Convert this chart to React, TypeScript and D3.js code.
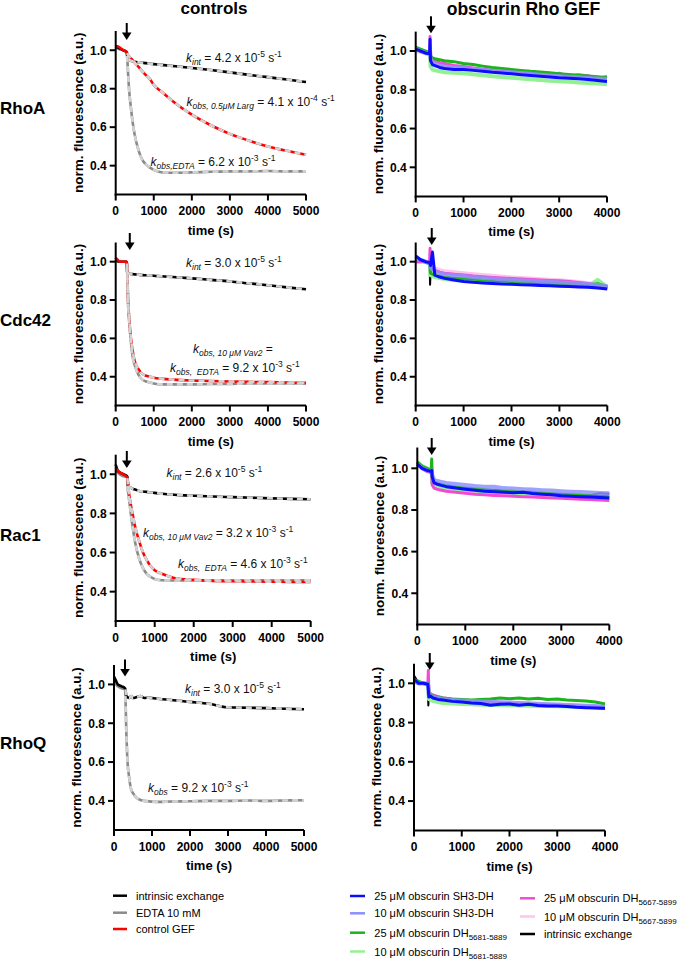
import React from "react";
import * as d3 from "d3";

const FONT = "'Liberation Sans', Arial, Helvetica, sans-serif";

// ---------- time axes ----------
const CONTROL_TIMES = [0, 50, 100, 200, 290, 300, 325, 350, 400, 450, 500, 600, 700, 800, 900, 1000, 1200, 1500, 2000, 2500, 3000, 3500, 4000, 4500, 5000];
const GEF_TIMES = [0, 100, 200, 290, 300, 310, 350, 400, 500, 600, 800, 1000, 1200, 1400, 1600, 1800, 2000, 2200, 2400, 2600, 2800, 3000, 3200, 3400, 3600, 3800, 4000];

const X_TICKS_CONTROL = [0, 1000, 2000, 3000, 4000, 5000];
const X_TICKS_GEF = [0, 1000, 2000, 3000, 4000];
const Y_TICKS = [0.4, 0.6, 0.8, 1.0];
const Y_DOMAIN = [0.25, 1.1];

const ROW_NAMES = ["RhoA", "Cdc42", "Rac1", "RhoQ"];

// ---------- controls data ----------
const rhoA_int = [1.02, 1.015, 1.01, 1.0, 0.99, 0.975, 0.955, 0.95, 0.945, 0.943, 0.94, 0.937, 0.935, 0.933, 0.93, 0.928, 0.924, 0.918, 0.908, 0.897, 0.885, 0.872, 0.86, 0.848, 0.835];
const rhoA_edta = [1.01, 1.01, 1.005, 1.0, 0.99, 0.97, 0.88, 0.8, 0.7, 0.62, 0.56, 0.48, 0.43, 0.405, 0.39, 0.378, 0.366, 0.363, 0.365, 0.368, 0.37, 0.37, 0.372, 0.37, 0.37];
const rhoA_gef = [1.02, 1.02, 1.015, 1.0, 0.99, 0.985, 0.975, 0.968, 0.958, 0.947, 0.936, 0.913, 0.89, 0.869, 0.85, 0.82, 0.785, 0.735, 0.665, 0.61, 0.565, 0.53, 0.5, 0.477, 0.457];

const cdc42_int = [1.02, 1.005, 1.0, 1.0, 1.0, 0.945, 0.94, 0.938, 0.936, 0.935, 0.934, 0.932, 0.93, 0.929, 0.928, 0.927, 0.924, 0.92, 0.913, 0.905, 0.897, 0.887, 0.877, 0.866, 0.856];
const cdc42_edta = [1.01, 1.0, 1.0, 1.0, 1.0, 0.97, 0.78, 0.7, 0.58, 0.5, 0.46, 0.41, 0.385, 0.375, 0.37, 0.365, 0.36, 0.36, 0.36, 0.362, 0.363, 0.365, 0.365, 0.365, 0.365];
const cdc42_gef = [1.02, 1.01, 1.0, 1.0, 1.0, 0.99, 0.8, 0.72, 0.6, 0.53, 0.48, 0.44, 0.415, 0.405, 0.4, 0.395, 0.39, 0.385, 0.38, 0.378, 0.375, 0.373, 0.372, 0.37, 0.368];

const rac1_int = [1.05, 1.02, 1.01, 1.0, 0.99, 0.985, 0.94, 0.935, 0.93, 0.925, 0.922, 0.915, 0.912, 0.91, 0.907, 0.905, 0.9, 0.895, 0.89, 0.886, 0.883, 0.88, 0.877, 0.874, 0.872];
const rac1_edta = [1.02, 1.01, 1.0, 0.99, 0.985, 0.94, 0.9, 0.86, 0.78, 0.71, 0.65, 0.57, 0.52, 0.49, 0.475, 0.465, 0.458, 0.457, 0.458, 0.458, 0.458, 0.458, 0.458, 0.458, 0.458];
const rac1_gef = [1.03, 1.02, 1.01, 1.0, 0.985, 0.98, 0.93, 0.89, 0.83, 0.78, 0.73, 0.66, 0.6, 0.56, 0.53, 0.51, 0.49, 0.47, 0.46, 0.455, 0.453, 0.452, 0.451, 0.45, 0.45];

const rhoQ_int = [1.04, 1.02, 1.0, 0.99, 0.98, 0.975, 0.94, 0.935, 0.93, 0.94, 0.93, 0.935, 0.94, 0.93, 0.932, 0.93, 0.925, 0.92, 0.91, 0.9, 0.882, 0.88, 0.878, 0.875, 0.872];
const rhoQ_edta = [1.02, 1.0, 0.99, 0.98, 0.975, 0.94, 0.75, 0.62, 0.52, 0.46, 0.44, 0.415, 0.405, 0.4, 0.398, 0.396, 0.395, 0.397, 0.398, 0.4, 0.4, 0.402, 0.4, 0.402, 0.403];

// ---------- obscurin GEF data ----------
const gA_blue = [1.01, 1.0, 0.99, 0.985, 1.06, 0.95, 0.93, 0.925, 0.915, 0.91, 0.905, 0.905, 0.9, 0.895, 0.89, 0.887, 0.882, 0.878, 0.874, 0.87, 0.866, 0.862, 0.86, 0.857, 0.853, 0.848, 0.843];
const gA_lblue = [1.01, 1.0, 0.99, 0.985, 1.0, 0.96, 0.94, 0.935, 0.925, 0.92, 0.915, 0.912, 0.907, 0.902, 0.898, 0.894, 0.89, 0.886, 0.882, 0.878, 0.874, 0.87, 0.867, 0.864, 0.861, 0.858, 0.855];
const gA_green = [1.02, 1.01, 1.0, 0.99, 1.0, 0.975, 0.965, 0.96, 0.955, 0.95, 0.945, 0.935, 0.93, 0.922, 0.915, 0.91, 0.905, 0.9, 0.895, 0.892, 0.888, 0.883, 0.879, 0.875, 0.871, 0.867, 0.862];
const gA_lgreen = [1.01, 1.0, 0.99, 0.985, 0.98, 0.92, 0.905, 0.9, 0.895, 0.89, 0.888, 0.885, 0.88, 0.875, 0.87, 0.866, 0.862, 0.858, 0.854, 0.85, 0.847, 0.844, 0.841, 0.838, 0.835, 0.832, 0.828];
const gA_pink = [1.01, 1.0, 0.99, 0.985, 1.075, 0.97, 0.955, 0.95, 0.94, 0.935, 0.925, 0.92, 0.912, 0.906, 0.9, 0.896, 0.892, 0.895, 0.884, 0.88, 0.876, 0.885, 0.868, 0.878, 0.872, 0.86, 0.868];
const gA_lpink = [1.0, 0.995, 0.99, 0.985, 1.0, 0.96, 0.945, 0.94, 0.932, 0.926, 0.92, 0.915, 0.908, 0.902, 0.897, 0.893, 0.889, 0.885, 0.881, 0.878, 0.875, 0.872, 0.869, 0.867, 0.865, 0.863, 0.86];
const gA_black = [1.01, 1.0, 0.99, 0.985, 0.97, 0.95, 0.94, 0.935, 0.93, 0.925, 0.918, 0.912, 0.906, 0.9, 0.895, 0.89, 0.886, 0.882, 0.878, 0.875, 0.872, 0.869, 0.866, 0.863, 0.86, 0.864, 0.862];

const gC_blue = [1.03, 1.01, 1.0, 0.995, 0.99, 0.98, 1.05, 0.93, 0.92, 0.913, 0.905, 0.897, 0.893, 0.889, 0.886, 0.884, 0.882, 0.88, 0.878, 0.876, 0.874, 0.872, 0.87, 0.868, 0.866, 0.863, 0.858];
const gC_lblue = [1.02, 1.01, 1.0, 0.99, 0.99, 0.97, 0.96, 0.95, 0.94, 0.935, 0.93, 0.925, 0.92, 0.915, 0.912, 0.908, 0.905, 0.902, 0.9, 0.898, 0.895, 0.892, 0.89, 0.886, 0.882, 0.878, 0.872];
const gC_green = [1.02, 1.01, 1.0, 0.99, 0.99, 0.94, 0.935, 0.93, 0.925, 0.92, 0.915, 0.912, 0.91, 0.905, 0.902, 0.9, 0.897, 0.895, 0.893, 0.89, 0.888, 0.886, 0.883, 0.88, 0.877, 0.885, 0.87];
const gC_lgreen = [1.02, 1.01, 1.0, 0.99, 0.99, 0.93, 0.925, 0.92, 0.915, 0.91, 0.905, 0.9, 0.897, 0.894, 0.892, 0.89, 0.888, 0.886, 0.884, 0.882, 0.88, 0.878, 0.876, 0.874, 0.872, 0.905, 0.868];
const gC_pink = [1.0, 1.0, 1.0, 0.995, 1.07, 0.97, 0.96, 0.955, 0.945, 0.94, 0.935, 0.93, 0.925, 0.922, 0.918, 0.915, 0.912, 0.91, 0.907, 0.905, 0.902, 0.9, 0.896, 0.892, 0.886, 0.878, 0.865];
const gC_lpink = [1.0, 1.0, 1.0, 0.995, 1.0, 0.975, 0.97, 0.965, 0.955, 0.95, 0.945, 0.94, 0.935, 0.93, 0.926, 0.922, 0.918, 0.915, 0.912, 0.909, 0.906, 0.903, 0.899, 0.894, 0.888, 0.88, 0.87];
const gC_black = [1.0, 1.0, 1.0, 0.995, 0.88, 0.935, 0.93, 0.925, 0.92, 0.915, 0.91, 0.905, 0.9, 0.897, 0.894, 0.891, 0.889, 0.887, 0.885, 0.883, 0.88, 0.878, 0.876, 0.874, 0.871, 0.868, 0.865];

const gR_blue = [1.02, 1.0, 0.99, 0.985, 0.99, 0.96, 0.93, 0.925, 0.918, 0.912, 0.905, 0.9, 0.895, 0.89, 0.887, 0.885, 0.883, 0.885, 0.879, 0.876, 0.873, 0.868, 0.866, 0.864, 0.862, 0.86, 0.857];
const gR_lblue = [1.02, 1.0, 0.99, 0.985, 0.99, 0.97, 0.945, 0.94, 0.935, 0.93, 0.925, 0.92, 0.915, 0.912, 0.912, 0.905, 0.903, 0.9, 0.898, 0.895, 0.893, 0.89, 0.888, 0.886, 0.884, 0.882, 0.88];
const gR_green = [1.03, 1.01, 1.0, 0.99, 1.045, 0.96, 0.935, 0.93, 0.922, 0.917, 0.91, 0.905, 0.902, 0.898, 0.895, 0.892, 0.89, 0.888, 0.885, 0.882, 0.878, 0.875, 0.872, 0.87, 0.868, 0.866, 0.863];
const gR_lgreen = [1.03, 1.01, 1.0, 0.99, 1.0, 0.93, 0.92, 0.915, 0.91, 0.905, 0.9, 0.897, 0.894, 0.89, 0.888, 0.885, 0.883, 0.88, 0.878, 0.876, 0.874, 0.871, 0.869, 0.867, 0.865, 0.863, 0.86];
const gR_pink = [1.03, 1.0, 0.985, 0.98, 0.98, 0.92, 0.905, 0.9, 0.895, 0.89, 0.885, 0.88, 0.876, 0.873, 0.87, 0.868, 0.866, 0.864, 0.862, 0.86, 0.858, 0.856, 0.854, 0.852, 0.85, 0.848, 0.846];
const gR_lpink = [1.02, 1.0, 0.99, 0.985, 0.985, 0.94, 0.925, 0.92, 0.913, 0.908, 0.9, 0.895, 0.891, 0.888, 0.885, 0.882, 0.88, 0.877, 0.875, 0.872, 0.87, 0.867, 0.865, 0.863, 0.861, 0.858, 0.855];
const gR_black = [1.02, 1.0, 0.99, 0.985, 0.93, 0.93, 0.925, 0.92, 0.915, 0.91, 0.905, 0.9, 0.897, 0.894, 0.891, 0.889, 0.887, 0.885, 0.883, 0.881, 0.879, 0.877, 0.875, 0.873, 0.871, 0.88, 0.878];

const gQ_blue = [1.02, 1.0, 1.0, 0.995, 0.97, 0.93, 0.935, 0.925, 0.918, 0.915, 0.908, 0.905, 0.9, 0.897, 0.888, 0.893, 0.895, 0.888, 0.893, 0.887, 0.885, 0.884, 0.882, 0.878, 0.876, 0.874, 0.873];
const gQ_lblue = [1.01, 1.0, 1.0, 0.995, 0.98, 0.94, 0.935, 0.93, 0.925, 0.92, 0.915, 0.912, 0.91, 0.908, 0.906, 0.904, 0.902, 0.9, 0.898, 0.896, 0.894, 0.892, 0.89, 0.888, 0.886, 0.884, 0.88];
const gQ_green = [1.02, 1.01, 1.0, 0.995, 1.0, 0.95, 0.94, 0.935, 0.93, 0.925, 0.92, 0.918, 0.915, 0.918, 0.92, 0.925, 0.922, 0.925, 0.92, 0.924, 0.918, 0.92, 0.915, 0.912, 0.91, 0.905, 0.895];
const gQ_lgreen = [1.01, 1.0, 1.0, 0.995, 0.98, 0.92, 0.915, 0.91, 0.905, 0.9, 0.897, 0.895, 0.893, 0.891, 0.89, 0.889, 0.888, 0.887, 0.886, 0.885, 0.884, 0.883, 0.882, 0.881, 0.88, 0.879, 0.878];
const gQ_pink = [1.01, 1.0, 1.0, 0.995, 1.065, 0.96, 0.945, 0.94, 0.932, 0.925, 0.918, 0.912, 0.908, 0.905, 0.902, 0.9, 0.898, 0.896, 0.894, 0.892, 0.89, 0.888, 0.886, 0.884, 0.88, 0.876, 0.872];
const gQ_lpink = [1.01, 1.0, 1.0, 0.995, 0.99, 0.955, 0.945, 0.94, 0.93, 0.925, 0.918, 0.913, 0.91, 0.907, 0.904, 0.902, 0.9, 0.898, 0.896, 0.894, 0.892, 0.89, 0.888, 0.886, 0.883, 0.88, 0.876];
const gQ_black = [1.04, 1.0, 1.0, 0.995, 0.887, 0.925, 0.925, 0.922, 0.918, 0.915, 0.912, 0.908, 0.905, 0.903, 0.9, 0.898, 0.897, 0.895, 0.894, 0.892, 0.89, 0.888, 0.886, 0.884, 0.882, 0.88, 0.878];

// ---------- styling ----------
const BLACK = "#000000";
const GRAY = "#8a8a8a";
const RED = "#ff0000";
const FIT = "#d2d2d2";
const C_BLUE = "#0c0cff";
const C_LBLUE = "#8f8fff";
const C_GREEN = "#1cb41c";
const C_LGREEN = "#94f094";
const C_PINK = "#f04cd2";
const C_LPINK = "#ffc4ec";

type Layout = { x0: number; x1: number; yT: number; yB: number; arrowT: number; tip: number };

const CONTROL_LAYOUT: Layout[] = [
  { x0: 115.7, x1: 306, yT: 31, yB: 194.5, arrowT: 290, tip: 40 },
  { x0: 115.7, x1: 306, yT: 242.5, yB: 405.5, arrowT: 370, tip: 250 },
  { x0: 115.7, x1: 310.7, yT: 454.7, yB: 621, arrowT: 285, tip: 468 },
  { x0: 114, x1: 304, yT: 665, yB: 830, arrowT: 290, tip: 676.5 },
];
const GEF_LAYOUT: Layout[] = [
  { x0: 415.7, x1: 607, yT: 31.6, yB: 196.4, arrowT: 320, tip: 33.3 },
  { x0: 415.7, x1: 607.3, yT: 242.5, yB: 405.5, arrowT: 335, tip: 245 },
  { x0: 417.3, x1: 609.3, yT: 447.5, yB: 624.5, arrowT: 300, tip: 455 },
  { x0: 414, x1: 605, yT: 663.7, yB: 830.5, arrowT: 330, tip: 670 },
];
const ROW_LABEL_Y = [114, 326, 541, 749];

type CSeries = { v: number[]; c: string; fitFrom: number };
const CONTROL_SERIES: CSeries[][] = [
  [{ v: rhoA_edta, c: GRAY, fitFrom: 300 }, { v: rhoA_int, c: BLACK, fitFrom: 325 }, { v: rhoA_gef, c: RED, fitFrom: 300 }],
  [{ v: cdc42_edta, c: GRAY, fitFrom: 300 }, { v: cdc42_int, c: BLACK, fitFrom: 300 }, { v: cdc42_gef, c: RED, fitFrom: 300 }],
  [{ v: rac1_edta, c: GRAY, fitFrom: 300 }, { v: rac1_int, c: BLACK, fitFrom: 325 }, { v: rac1_gef, c: RED, fitFrom: 300 }],
  [{ v: rhoQ_edta, c: GRAY, fitFrom: 300 }, { v: rhoQ_int, c: BLACK, fitFrom: 300 }],
];

const GEF_SERIES: { v: number[]; c: string; w: number }[][] = [
  [gA_black, gA_lpink, gA_lgreen, gA_pink, gA_green, gA_lblue, gA_blue],
  [gC_black, gC_lpink, gC_lgreen, gC_pink, gC_green, gC_lblue, gC_blue],
  [gR_black, gR_lpink, gR_lgreen, gR_pink, gR_green, gR_lblue, gR_blue],
  [gQ_black, gQ_lpink, gQ_lgreen, gQ_pink, gQ_green, gQ_lblue, gQ_blue],
].map((row) => {
  const cols = [BLACK, C_LPINK, C_LGREEN, C_PINK, C_GREEN, C_LBLUE, C_BLUE];
  const ws = [2, 4, 4, 3, 3, 4, 3];
  return row.map((v, i) => ({ v, c: cols[i], w: ws[i] }));
});

type Part = { t: string; s?: "i" | "sub" | "sup" };
const kint = (val: string, exp: string): Part[] => [
  { t: "k", s: "i" }, { t: "int", s: "sub" }, { t: ` = ${val} x 10` }, { t: exp, s: "sup" }, { t: " s" }, { t: "-1", s: "sup" },
];
const kobs = (sub: string, val: string, exp: string): Part[] => [
  { t: "k", s: "i" }, { t: sub, s: "sub" }, { t: ` = ${val} x 10` }, { t: exp, s: "sup" }, { t: " s" }, { t: "-1", s: "sup" },
];

const ANNOTS: { x: number; y: number; parts: Part[] }[][] = [
  [
    { x: 186, y: 62, parts: kint("4.2", "-5") },
    { x: 186.5, y: 106, parts: kobs("obs, 0.5μM Larg", "4.1", "-4") },
    { x: 150.5, y: 166, parts: kobs("obs,EDTA", "6.2", "-3") },
  ],
  [
    { x: 186, y: 267, parts: kint("3.0", "-5") },
    { x: 193, y: 353, parts: [{ t: "k", s: "i" }, { t: "obs, 10 μM Vav2", s: "sub" }, { t: " =" }] },
    { x: 170, y: 372, parts: kobs("obs,  EDTA", "9.2", "-3") },
  ],
  [
    { x: 166.5, y: 477, parts: kint("2.6", "-5") },
    { x: 143, y: 537, parts: kobs("obs, 10 μM Vav2", "3.2", "-3") },
    { x: 178, y: 568, parts: kobs("obs,  EDTA", "4.6", "-3") },
  ],
  [
    { x: 185, y: 693, parts: kint("3.0", "-5") },
    { x: 148, y: 792, parts: kobs("obs", "9.2", "-3") },
  ],
];

const LEFT_LEGEND = [
  { label: "intrinsic exchange", c: BLACK },
  { label: "EDTA 10 mM", c: GRAY },
  { label: "control GEF", c: RED },
];
const RIGHT_LEGEND: { c: string; main: string; sub?: string; col: number; y: number }[] = [
  { c: C_BLUE, main: "25 μM obscurin SH3-DH", col: 0, y: 896 },
  { c: C_LBLUE, main: "10 μM obscurin SH3-DH", col: 0, y: 913.3 },
  { c: C_GREEN, main: "25 μM obscurin DH", sub: "5681-5889", col: 0, y: 932.7 },
  { c: C_LGREEN, main: "10 μM obscurin DH", sub: "5681-5889", col: 0, y: 951.5 },
  { c: C_PINK, main: "25 μM obscurin DH", sub: "5667-5899", col: 1, y: 898.3 },
  { c: C_LPINK, main: "10 μM obscurin DH", sub: "5667-5899", col: 1, y: 916.5 },
  { c: BLACK, main: "intrinsic exchange", col: 1, y: 934 },
];

function Annot({ x, y, parts }: { x: number; y: number; parts: Part[] }) {
  let shift = 0;
  const spans = parts.map((p, i) => {
    const target = p.s === "sub" ? 2.5 : p.s === "sup" ? -5 : 0;
    const dy = target - shift;
    shift = target;
    const small = p.s === "sub" || p.s === "sup";
    const italic = p.s === "i" || p.s === "sub";
    return (
      <tspan key={i} dy={dy} fontSize={small ? 8.5 : 12} fontStyle={italic ? "italic" : "normal"}>
        {p.t}
      </tspan>
    );
  });
  return (
    <text x={x} y={y} fontFamily={FONT} fill="#111" style={{ whiteSpace: "pre" }}>
      {spans}
    </text>
  );
}

function Arrow({ x, tip }: { x: number; tip: number }) {
  return (
    <g>
      <line x1={x} x2={x} y1={tip - 17} y2={tip - 6} stroke="#000" strokeWidth={2} />
      <path d={`M${x - 4.8},${tip - 7.5} L${x + 4.8},${tip - 7.5} L${x},${tip} Z`} fill="#000" />
    </g>
  );
}

function Axes({ L, xMax, xTicks }: { L: Layout; xMax: number; xTicks: number[] }) {
  const xs = d3.scaleLinear().domain([0, xMax]).range([L.x0, L.x1]);
  const ys = d3.scaleLinear().domain(Y_DOMAIN).range([L.yB, L.yT]);
  const mid = (L.yT + L.yB) / 2;
  return (
    <g fontFamily={FONT} fontWeight="bold">
      <line x1={L.x0} x2={L.x0} y1={L.yT} y2={L.yB + 1} stroke="#000" strokeWidth={2} />
      <line x1={L.x0 - 1} x2={L.x1} y1={L.yB} y2={L.yB} stroke="#000" strokeWidth={2} />
      {Y_TICKS.map((t) => (
        <g key={t}>
          <line x1={L.x0 - 6} x2={L.x0} y1={ys(t)} y2={ys(t)} stroke="#000" strokeWidth={2} />
          <text x={L.x0 - 9} y={ys(t)} dy="0.36em" textAnchor="end" fontSize={12}>
            {t.toFixed(1)}
          </text>
        </g>
      ))}
      {xTicks.map((t) => (
        <g key={t}>
          <line x1={xs(t)} x2={xs(t)} y1={L.yB} y2={L.yB + 6} stroke="#000" strokeWidth={2} />
          <text x={xs(t)} y={L.yB + 20.5} textAnchor="middle" fontSize={12}>
            {t}
          </text>
        </g>
      ))}
      <text x={(L.x0 + L.x1) / 2} y={L.yB + 40} textAnchor="middle" fontSize={13}>
        time (s)
      </text>
      <text transform={`translate(${L.x0 - 33},${mid}) rotate(-90)`} textAnchor="middle" fontSize={13.5}>
        norm. fluorescence (a.u.)
      </text>
    </g>
  );
}

function ControlPanel({ idx }: { idx: number }) {
  const L = CONTROL_LAYOUT[idx];
  const xs = d3.scaleLinear().domain([0, 5000]).range([L.x0, L.x1]);
  const ys = d3.scaleLinear().domain(Y_DOMAIN).range([L.yB, L.yT]);
  const line = d3
    .line<[number, number]>()
    .x((d) => xs(d[0]))
    .y((d) => ys(d[1]))
    .curve(d3.curveMonotoneX);
  const series = CONTROL_SERIES[idx];
  return (
    <g>
      {series.map((s, i) => (
        <path key={"d" + i} d={line(CONTROL_TIMES.map((t, j) => [t, s.v[j]] as [number, number])) || ""} fill="none" stroke={s.c} strokeWidth={2.6} />
      ))}
      {series.map((s, i) => (
        <path
          key={"f" + i}
          d={line(CONTROL_TIMES.map((t, j) => [t, s.v[j]] as [number, number]).filter((p) => p[0] >= s.fitFrom)) || ""}
          fill="none"
          stroke={FIT}
          strokeWidth={2.6}
          strokeDasharray="6 4"
        />
      ))}
      <Axes L={L} xMax={5000} xTicks={X_TICKS_CONTROL} />
      <Arrow x={xs(L.arrowT)} tip={L.tip} />
      {ANNOTS[idx].map((a, i) => (
        <Annot key={i} {...a} />
      ))}
    </g>
  );
}

function GefPanel({ idx }: { idx: number }) {
  const L = GEF_LAYOUT[idx];
  const xs = d3.scaleLinear().domain([0, 4000]).range([L.x0, L.x1]);
  const ys = d3.scaleLinear().domain(Y_DOMAIN).range([L.yB, L.yT]);
  const line = d3
    .line<[number, number]>()
    .x((d) => xs(d[0]))
    .y((d) => ys(d[1]));
  return (
    <g>
      {GEF_SERIES[idx].map((s, i) => (
        <path
          key={i}
          d={line(GEF_TIMES.map((t, j) => [t, s.v[j]] as [number, number])) || ""}
          fill="none"
          stroke={s.c}
          strokeWidth={s.w}
          strokeLinejoin="round"
          opacity={s.c === C_LBLUE ? 0.85 : 1}
        />
      ))}
      <Axes L={L} xMax={4000} xTicks={X_TICKS_GEF} />
      <Arrow x={xs(L.arrowT)} tip={L.tip} />
    </g>
  );
}

export default function App() {
  return (
    <svg
      width={685}
      height={959}
      viewBox="0 0 685 959"
      style={{ position: "absolute", left: 0, top: 0, background: "#fff" }}
    >
      <rect x={0} y={0} width={685} height={959} fill="#fff" />
      <text x={214} y={14} textAnchor="middle" fontFamily={FONT} fontWeight="bold" fontSize={17}>
        controls
      </text>
      <text x={523.5} y={15} textAnchor="middle" fontFamily={FONT} fontWeight="bold" fontSize={17.5}>
        obscurin Rho GEF
      </text>
      {ROW_NAMES.map((n, i) => (
        <text key={n} x={0} y={ROW_LABEL_Y[i]} fontFamily={FONT} fontWeight="bold" fontSize={17}>
          {n}
        </text>
      ))}
      {ROW_NAMES.map((n, i) => (
        <ControlPanel key={"c" + n} idx={i} />
      ))}
      {ROW_NAMES.map((n, i) => (
        <GefPanel key={"g" + n} idx={i} />
      ))}
      {/* left legend */}
      <g fontFamily={FONT} fontSize={11}>
        {LEFT_LEGEND.map((l, i) => {
          const y = [895.7, 912.7, 929][i];
          return (
            <g key={l.label}>
              <line x1={113} x2={127} y1={y} y2={y} stroke={l.c} strokeWidth={2.5} />
              <text x={136} y={y + 4}>{l.label}</text>
            </g>
          );
        })}
      </g>
      {/* right legend */}
      <g fontFamily={FONT} fontSize={11}>
        {RIGHT_LEGEND.map((l) => {
          const sx = l.col === 0 ? 350 : 520;
          const tx = l.col === 0 ? 374.3 : 544;
          return (
            <g key={l.main + (l.sub || "") + l.c}>
              <line x1={sx} x2={sx + 15} y1={l.y} y2={l.y} stroke={l.c} strokeWidth={2.5} />
              <text x={tx} y={l.y + 4}>
                {l.main}
                {l.sub ? (
                  <tspan dy={3} fontSize={8}>
                    {l.sub}
                  </tspan>
                ) : null}
              </text>
            </g>
          );
        })}
      </g>
    </svg>
  );
}
